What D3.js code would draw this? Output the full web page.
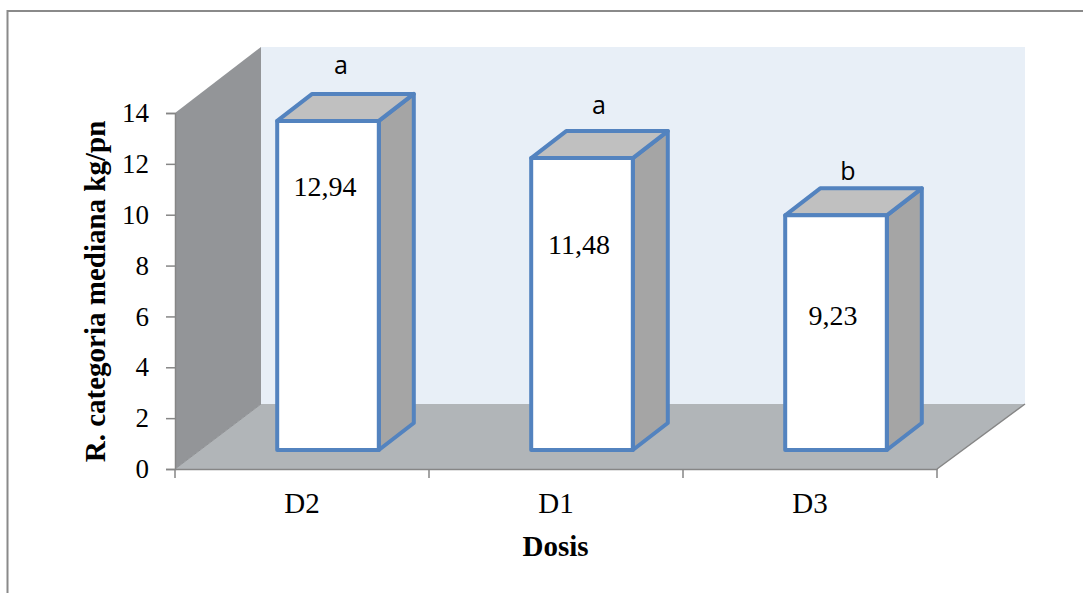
<!DOCTYPE html>
<html>
<head>
<meta charset="utf-8">
<script src="https://cdnjs.cloudflare.com/ajax/libs/d3/7.8.5/d3.min.js"></script>
<style>
  html, body { margin: 0; padding: 0; background: #fff; overflow: hidden; }
  text { font-family: "Liberation Serif", serif; fill: #000; }
  .letter { font-family: "Open Sans", sans-serif; }
</style>
</head>
<body>
<div class="chart"></div>
<script>
// Chart data
var categories = ["D2", "D1", "D3"];
var values = [12.94, 11.48, 9.23];
var valueLabels = ["12,94", "11,48", "9,23"];
var letters = ["a", "a", "b"];
var yTicks = [0, 2, 4, 6, 8, 10, 12, 14];

// Set up chart
var svgWidth = 1083;
var svgHeight = 593;
var x0 = 175, x1 = 937, y0 = 469, y14 = 113;

// Depth of the 3d box and of the bars
var depthX = 86, depthY = -65;
var floorRight = x1 + 88;
var wallTop = y14 - 1 + depthY;
var barDx = 35, barDy = -27;

// Hand placed label offsets, per bar
var valueNudge = [75, 96, 110];
var letterNudgeX = [13, 17, 12];
var letterNudgeY = [47, 44, 35];

var svg = d3.select(".chart").append("svg")
  .attr("width", svgWidth)
  .attr("height", svgHeight)
  .style("display", "block");

// Outer frame
svg.append("rect")
  .attr("x", 7.5).attr("y", 11)
  .attr("width", 1090).attr("height", 600)
  .attr("fill", "#fff")
  .attr("stroke", "#8a8a8a")
  .attr("stroke-width", 2);

var xScale = d3.scaleBand().domain(categories).range([x0, x1]);
var yScale = d3.scaleLinear().domain([0, 14]).range([y0, y14]);

// Back wall
svg.append("polygon")
  .attr("points", [[x0 + depthX, wallTop], [floorRight, wallTop], [floorRight, y0 + depthY], [x0 + depthX, y0 + depthY]].join(" "))
  .attr("fill", "#e8eff7");

// Side wall
svg.append("polygon")
  .attr("points", [[x0, y14], [x0 + depthX, wallTop], [x0 + depthX, y0 + depthY], [x0, y0]].join(" "))
  .attr("fill", "#939598");

// Floor
svg.append("polygon")
  .attr("points", [[x0, y0], [x0 + depthX, y0 + depthY], [floorRight, y0 + depthY], [x1, y0]].join(" "))
  .attr("fill", "#b1b5b8");

svg.append("path")
  .attr("d", d3.line()([[x0, y0], [x0 + depthX, y0 + depthY]]))
  .attr("stroke", "#8f9194").attr("fill", "none");
svg.append("path")
  .attr("d", d3.line()([[x1, y0], [floorRight, y0 + depthY]]))
  .attr("stroke", "#868686").attr("stroke-width", 1.5).attr("fill", "none");

// Axes
var leftAxis = d3.axisLeft(yScale).tickValues(yTicks).tickSize(9).tickPadding(17);
var bottomAxis = d3.axisBottom(xScale).tickSize(0).tickPadding(23);

var yAxis = svg.append("g")
  .attr("transform", `translate(${x0}, 0)`)
  .call(leftAxis);
yAxis.selectAll("text").style("font-family", "Liberation Serif").style("font-size", "27px").attr("fill", "#000");

var xAxis = svg.append("g")
  .attr("transform", `translate(0, ${y0})`)
  .call(bottomAxis);
xAxis.selectAll("text").style("font-family", "Liberation Serif").style("font-size", "29px").attr("fill", "#000");

// Category boundary ticks on the x axis
var boundaries = categories.map(d => xScale(d)).concat([x1]);
svg.append("g").selectAll("line")
  .data(boundaries)
  .enter()
  .append("line")
  .attr("x1", d => d).attr("x2", d => d)
  .attr("y1", y0).attr("y2", y0 + 9)
  .attr("stroke", "#868686").attr("stroke-width", 1.5);

svg.selectAll(".domain, .tick line").attr("stroke", "#868686").attr("stroke-width", 1.5);

// Bars, base sits on the middle of the floor
var barWidth = xScale.bandwidth() * 0.4;
var barBase = yScale(0) - 19;
var blue = "#5383bf";

var bars = svg.selectAll(".bar")
  .data(categories)
  .enter()
  .append("g")
  .attr("class", "bar")
  .attr("stroke", blue)
  .attr("stroke-width", 4)
  .attr("stroke-linejoin", "round");

function barLeft(i) { return xScale(categories[i]) + xScale.bandwidth() / 2 + 26 - barWidth / 2; }
function barTop(i) { return barBase - (y0 - yScale(values[i])); }

// Side face
bars.append("polygon")
  .attr("fill", "#a5a5a5")
  .attr("points", (d, i) => {
    var r = barLeft(i) + barWidth, t = barTop(i);
    return [[r, t], [r + barDx, t + barDy], [r + barDx, barBase + barDy], [r, barBase]].join(" ");
  });

// Top face
bars.append("polygon")
  .attr("fill", "#c0c0c0")
  .attr("points", (d, i) => {
    var l = barLeft(i), t = barTop(i);
    return [[l, t], [l + barDx, t + barDy], [l + barWidth + barDx, t + barDy], [l + barWidth, t]].join(" ");
  });

// Front face
bars.append("rect")
  .attr("fill", "#fff")
  .attr("x", (d, i) => barLeft(i))
  .attr("y", (d, i) => barTop(i))
  .attr("width", barWidth)
  .attr("height", (d, i) => barBase - barTop(i));

// Value labels
svg.selectAll(".value")
  .data(valueLabels)
  .enter()
  .append("text")
  .attr("class", "value")
  .attr("text-anchor", "middle")
  .style("font-size", "28px")
  .attr("x", (d, i) => barLeft(i) + barWidth / 2 - 3)
  .attr("y", (d, i) => barTop(i) + valueNudge[i])
  .text(d => d);

// Significance letters
svg.selectAll(".letter")
  .data(letters)
  .enter()
  .append("text")
  .attr("class", "letter")
  .attr("text-anchor", "middle")
  .style("font-size", "25px")
  .attr("x", (d, i) => barLeft(i) + barWidth / 2 + letterNudgeX[i])
  .attr("y", (d, i) => barTop(i) - letterNudgeY[i])
  .text(d => d);

// Axis titles
svg.append("text")
  .attr("transform", "translate(105, 291.5) rotate(-90)")
  .attr("text-anchor", "middle")
  .style("font-size", "29px")
  .style("font-weight", "bold")
  .text("R. categoria mediana kg/pn");

svg.append("text")
  .attr("x", 555.5).attr("y", 556)
  .attr("text-anchor", "middle")
  .style("font-size", "29px")
  .style("font-weight", "bold")
  .text("Dosis");
</script>
</body>
</html>
